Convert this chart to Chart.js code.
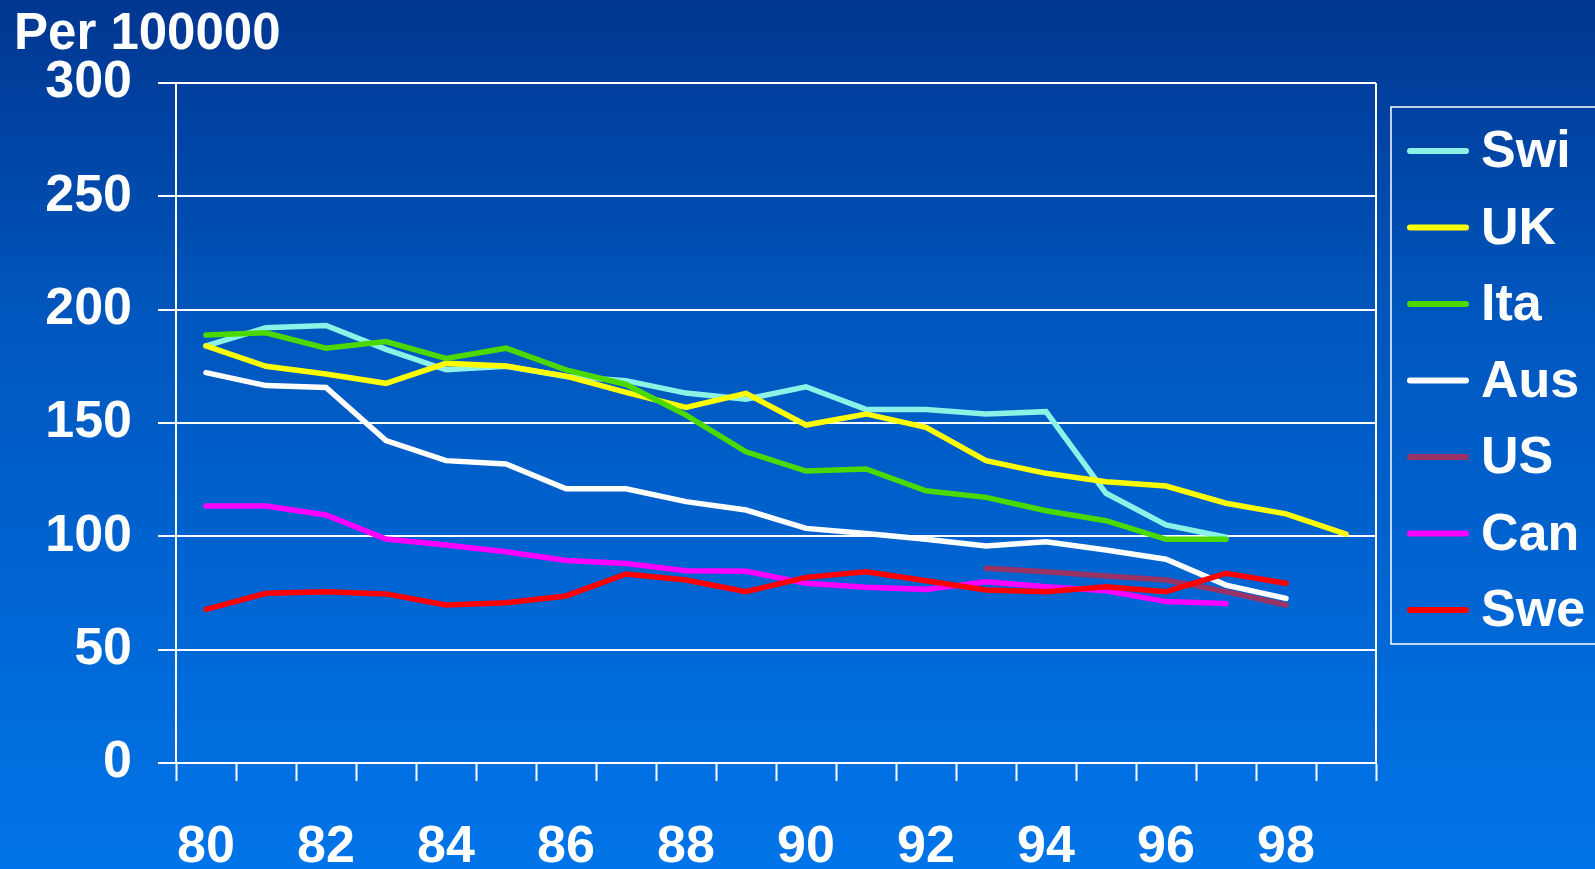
<!DOCTYPE html>
<html>
<head>
<meta charset="utf-8">
<title>Per 100000</title>
<script src="https://cdn.jsdelivr.net/npm/chart.js@4"></script>
<style>
  html, body { margin: 0; padding: 0; background: #0056bd; overflow: hidden; }
  #chartcontainer { position: relative; width: 1595px; height: 869px; }
</style>
</head>
<body>
<div id="chartcontainer"><canvas id="myChart" width="1595" height="869"></canvas></div>
<script>
var years = ['80','81','82','83','84','85','86','87','88','89','90','91','92','93','94','95','96','97','98','99'];

var swi = [184, 192, 193, 182.5, 173.5, 175, 170.5, 168.7, 163.2, 160.5, 166, 156, 156, 154, 155, 119, 105, 99.6, null, null];
var uk  = [184, 175, 171.6, 167.5, 176.3, 175.1, 170.7, 163.5, 156.9, 163.1, 149.1, 154, 148.1, 133.4, 127.8, 124.1, 122.2, 114.6, 109.9, 101];
var ita = [188.8, 189.8, 183, 185.9, 178.5, 183, 173.4, 167, 153.5, 137.3, 128.8, 129.7, 120.1, 117.2, 111.3, 106.9, 98.7, 98.7, null, null];
var aus = [172.2, 166.5, 165.7, 142.2, 133.4, 131.9, 121, 121, 115.3, 111.6, 103.5, 101.3, 98.7, 95.7, 97.6, 94, 89.9, 78.5, 72.6, null];
var us  = [null, null, null, null, null, null, null, null, null, null, null, null, null, 85.9, 84.4, 82.5, 80.7, 75.6, 69.7, null];
var can = [113.4, 113.4, 109.4, 98.8, 96.2, 93.2, 89.3, 88, 84.8, 84.6, 79.3, 77.5, 76.6, 80, 77.8, 76, 71.2, 70.4, null, null];
var swe = [67.8, 74.9, 75.6, 74.6, 69.7, 70.7, 73.7, 83.4, 80.7, 75.6, 81.9, 84.4, 80.4, 76.3, 75.6, 77.8, 75.6, 83.7, 79.3, null];

var seriesNames  = ['Swi', 'UK', 'Ita', 'Aus', 'US', 'Can', 'Swe'];
var seriesColors = ['#8cf2e6', '#ffff00', '#4cd900', '#ffffff', '#993366', '#ff00ff', '#ff0000'];
var seriesData   = [swi, uk, ita, aus, us, can, swe];

var yTicks = [0, 50, 100, 150, 200, 250, 300];

var FONT = '"Liberation Sans", Arial, Helvetica, sans-serif';

var datasets = [];
for (var i = 0; i < seriesNames.length; i++) {
  datasets.push({
    label: seriesNames[i],
    data: seriesData[i],
    borderColor: seriesColors[i],
    backgroundColor: seriesColors[i],
    borderWidth: 5.5,
    borderCapStyle: 'round',
    borderJoinStyle: 'miter',
    pointRadius: 0,
    pointHoverRadius: 0,
    tension: 0,
    fill: false,
    spanGaps: false,
    // later series sit on top, like the original
    order: seriesNames.length - i
  });
}

// gradient background, right frame line, title and boxed legend
var decor = {
  id: 'decor',
  beforeDraw: function(chart) {
    var c = chart.ctx;
    var g = c.createLinearGradient(0, 0, 0, chart.height);
    g.addColorStop(0, '#003690');
    g.addColorStop(0.36, '#0056bd');
    g.addColorStop(1, '#0074e8');
    c.save();
    c.fillStyle = g;
    c.fillRect(0, 0, chart.width, chart.height);
    c.restore();
  },
  afterDraw: function(chart) {
    var c = chart.ctx;
    var a = chart.chartArea;
    c.save();
    c.strokeStyle = '#ffffff';
    c.lineWidth = 2;
    c.beginPath();
    c.moveTo(a.right, a.top);
    c.lineTo(a.right, a.bottom);
    c.stroke();

    c.fillStyle = '#ffffff';
    c.font = 'bold 51px ' + FONT;
    c.textAlign = 'left';
    c.textBaseline = 'alphabetic';
    c.fillText('Per 100000', 14, 49);

    // legend
    c.lineWidth = 1.5;
    c.strokeRect(1391, 107, 260, 537);
    var ds = chart.data.datasets;
    for (var k = 0; k < ds.length; k++) {
      var y = 151 + k * 76.5;
      c.strokeStyle = ds[k].borderColor;
      c.lineWidth = 6;
      c.lineCap = 'round';
      c.beginPath();
      c.moveTo(1410, y);
      c.lineTo(1466, y);
      c.stroke();
      c.fillStyle = '#ffffff';
      c.font = 'bold 52px ' + FONT;
      c.textBaseline = 'middle';
      c.fillText(ds[k].label, 1481, y + 2);
    }
    c.restore();
  }
};

var ctx = document.getElementById('myChart').getContext('2d');

window.chart = new Chart(ctx, {
  type: 'line',
  data: {
    labels: years,
    datasets: datasets
  },
  plugins: [decor],
  options: {
    responsive: false,
    animation: false,
    events: [],
    layout: {
      padding: { left: 0, right: 219, top: 83, bottom: 0 }
    },
    plugins: {
      legend: { display: false },
      tooltip: { enabled: false },
      title: { display: false }
    },
    scales: {
      x: {
        type: 'category',
        offset: true,
        grid: {
          offset: true,
          drawOnChartArea: false,
          drawTicks: true,
          tickLength: 18,
          tickWidth: 2,
          tickColor: '#ffffff'
        },
        border: { display: true, color: '#ffffff', width: 2 },
        ticks: {
          autoSkip: false,
          maxRotation: 0,
          minRotation: 0,
          padding: 41,
          color: '#ffffff',
          font: { family: FONT, size: 52, weight: 'bold', lineHeight: 1 },
          callback: function(val, idx) {
            return idx % 2 === 0 ? this.getLabelForValue(val) : '';
          }
        },
        afterFit: function(scale) { scale.height = 106; }
      },
      y: {
        min: 0,
        max: 300,
        afterBuildTicks: function(scale) {
          scale.ticks = yTicks.map(function(v) { return { value: v }; });
        },
        grid: {
          color: '#ffffff',
          lineWidth: 2,
          drawTicks: true,
          tickLength: 18,
          tickColor: '#ffffff'
        },
        border: { display: true, color: '#ffffff', width: 2 },
        ticks: {
          padding: 26,
          color: '#ffffff',
          font: { family: FONT, size: 52, weight: 'bold', lineHeight: 1 }
        },
        afterFit: function(scale) { scale.width = 176; }
      }
    }
  }
});
</script>
</body>
</html>
